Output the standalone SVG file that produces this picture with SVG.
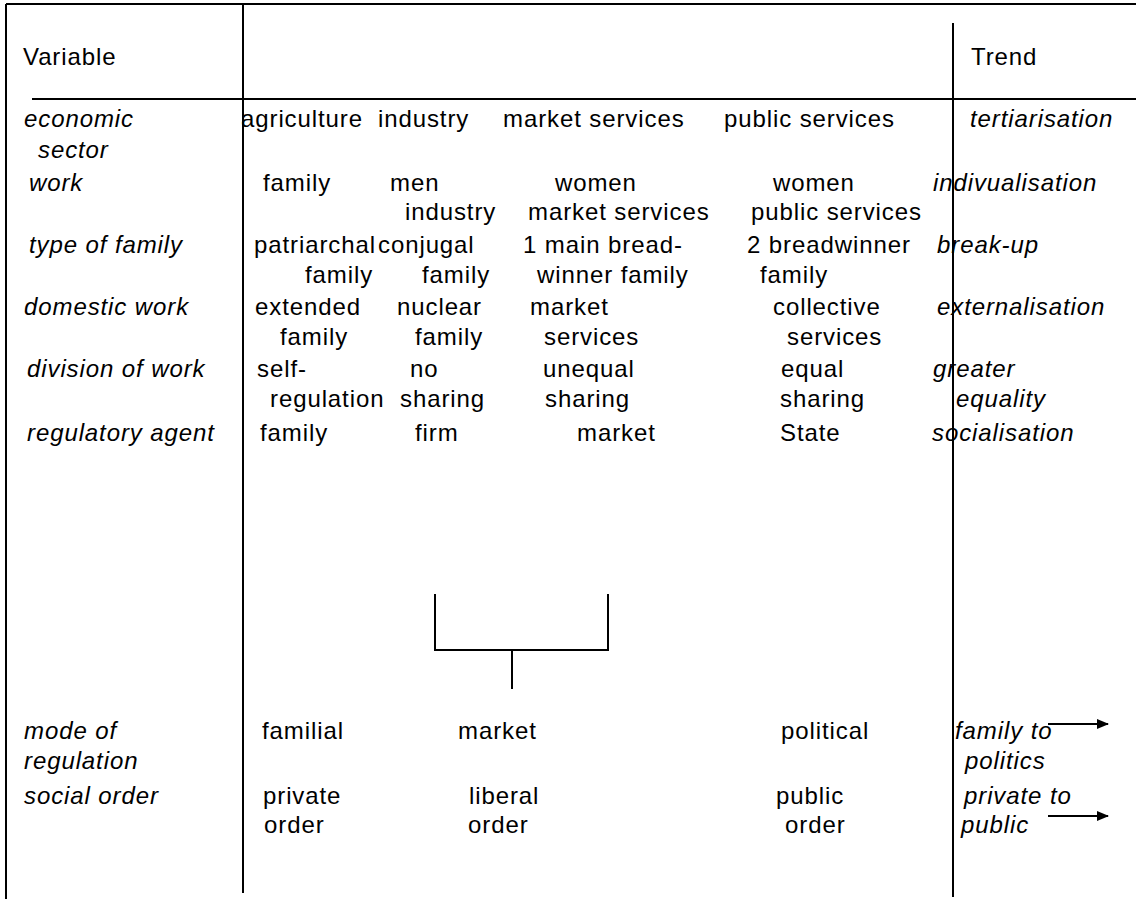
<svg xmlns="http://www.w3.org/2000/svg" width="1136" height="899" viewBox="0 0 1136 899">
<defs>
<style>
text{font-family:"Liberation Sans",Arial,sans-serif;font-size:24px;letter-spacing:0.9px;fill:#000}
.i{font-style:italic}
.ln{stroke:#000;stroke-width:2;fill:none}
</style>
<marker id="ah" markerWidth="12" markerHeight="10" refX="11" refY="5" orient="auto" markerUnits="userSpaceOnUse">
<path d="M0,0 L12,5 L0,10 Z" fill="#000"/>
</marker>
</defs>
<rect width="1136" height="899" fill="#fff"/>
<g id="grid">
<path class="ln" d="M6,4 H1136 M6,4 V899 M243,4 V893 M953,23 V897 M32,99 H1136"/>
</g>
<g id="header">
<text x="23" y="65">Variable</text>
<text x="971" y="65">Trend</text>
</g>
<g id="row-economic-sector">
<text class="i" x="24" y="127">economic</text>
<text class="i" x="38" y="158">sector</text>
<text x="241" y="127">agriculture</text>
<text x="378" y="127">industry</text>
<text x="503" y="127">market services</text>
<text x="724" y="127">public services</text>
<text class="i" x="970" y="127">tertiarisation</text>
</g>
<g id="row-work">
<text class="i" x="29" y="191">work</text>
<text x="263" y="191">family</text>
<text x="390" y="191">men</text>
<text x="555" y="191">women</text>
<text x="773" y="191">women</text>
<text x="405" y="220">industry</text>
<text x="528" y="220">market services</text>
<text x="751" y="220">public services</text>
<text class="i" x="933" y="191">indivualisation</text>
</g>
<g id="row-type-of-family">
<text class="i" x="29" y="253">type of family</text>
<text x="254" y="253">patriarchal</text>
<text x="378" y="253">conjugal</text>
<text x="523" y="253">1 main bread-</text>
<text x="747" y="253">2 breadwinner</text>
<text x="305" y="283">family</text>
<text x="422" y="283">family</text>
<text x="537" y="283">winner family</text>
<text x="760" y="283">family</text>
<text class="i" x="937" y="253">break-up</text>
</g>
<g id="row-domestic-work">
<text class="i" x="24" y="315">domestic work</text>
<text x="255" y="315">extended</text>
<text x="397" y="315">nuclear</text>
<text x="530" y="315">market</text>
<text x="773" y="315">collective</text>
<text x="280" y="345">family</text>
<text x="415" y="345">family</text>
<text x="544" y="345">services</text>
<text x="787" y="345">services</text>
<text class="i" x="937" y="315">externalisation</text>
</g>
<g id="row-division-of-work">
<text class="i" x="27" y="377">division of work</text>
<text x="257" y="377">self-</text>
<text x="410" y="377">no</text>
<text x="543" y="377">unequal</text>
<text x="781" y="377">equal</text>
<text x="270" y="407">regulation</text>
<text x="400" y="407">sharing</text>
<text x="545" y="407">sharing</text>
<text x="780" y="407">sharing</text>
<text class="i" x="933" y="377">greater</text>
<text class="i" x="956" y="407">equality</text>
</g>
<g id="row-regulatory-agent">
<text class="i" x="27" y="441">regulatory agent</text>
<text x="260" y="441">family</text>
<text x="415" y="441">firm</text>
<text x="577" y="441">market</text>
<text x="780" y="441">State</text>
<text class="i" x="932" y="441">socialisation</text>
</g>
<g id="row-mode-of-regulation">
<text class="i" x="24" y="739">mode of</text>
<text class="i" x="24" y="769">regulation</text>
<text x="262" y="739">familial</text>
<text x="458" y="739">market</text>
<text x="781" y="739">political</text>
<text class="i" x="955" y="739">family to</text>
<text class="i" x="965" y="769">politics</text>
</g>
<g id="row-social-order">
<text class="i" x="24" y="804">social order</text>
<text x="263" y="804">private</text>
<text x="469" y="804">liberal</text>
<text x="776" y="804">public</text>
<text x="264" y="833">order</text>
<text x="468" y="833">order</text>
<text x="785" y="833">order</text>
<text class="i" x="964" y="804">private to</text>
<text class="i" x="961" y="833">public</text>
</g>
<g id="connectors">
<path class="ln" d="M435,594 V650 H608 V594 M512,650 V689"/>
<line class="ln" x1="1048" y1="724" x2="1108" y2="724" marker-end="url(#ah)"/>
<line class="ln" x1="1048" y1="816" x2="1108" y2="816" marker-end="url(#ah)"/>
</g>
</svg>
